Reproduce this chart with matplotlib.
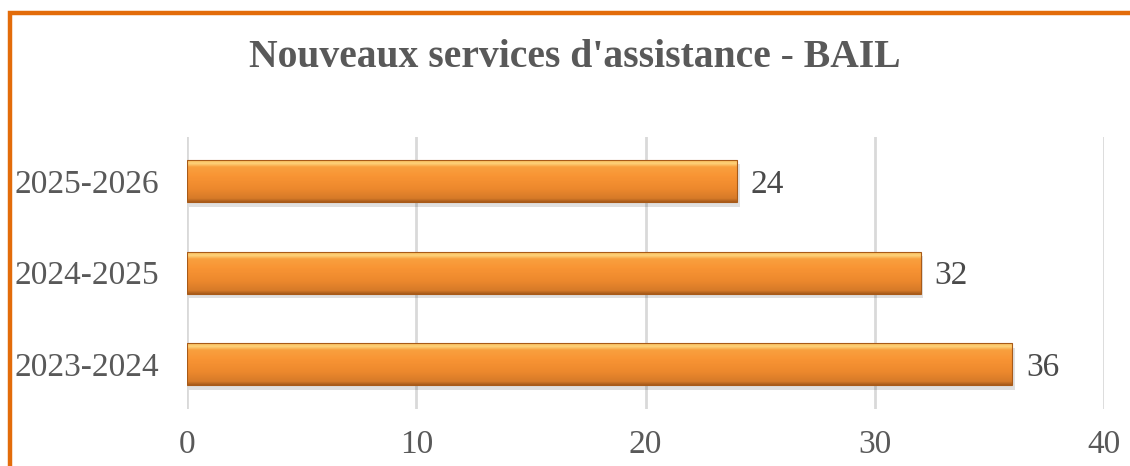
import matplotlib.pyplot as plt
import numpy as np
from matplotlib.colors import LinearSegmentedColormap
from matplotlib.patches import Rectangle

years = ["2023-2024", "2024-2025", "2025-2026"]
services = [36, 32, 24]
xticks = [0, 10, 20, 30, 40]

title = "Nouveaux services d'assistance - BAIL"

plt.rcParams["font.family"] = ["Liberation Serif", "DejaVu Serif"]

fig = plt.figure(figsize=(11.3, 4.66), dpi=100)
ax = fig.add_axes([0.1655, 0.122, 0.8115, 0.584])

# orange frame (only top and left visible in the crop)
fig.patches.append(Rectangle((9.5 / 1130, -0.2), 2.0, 1.2 - 12.5 / 466,
                             transform=fig.transFigure, fill=False,
                             edgecolor="#E36C0A", linewidth=3.2, zorder=0))

pos = np.arange(len(years))
bars = ax.barh(pos, services, height=0.46, color="#F79232", zorder=2)

# vertical gradient to imitate the bevel look
cmap = LinearSegmentedColormap.from_list(
    "bevel", [(0.0, "#A65A1A"), (0.08, "#D67A28"), (0.3, "#EC882D"),
              (0.6, "#F89434"), (0.82, "#F9A03E"), (0.9, "#FDD27A"),
              (0.96, "#FBC060"), (1.0, "#F0A050")])
grad = np.linspace(0, 1, 128).reshape(-1, 1)
for b in bars:
    x0, y0 = b.get_x(), b.get_y()
    w, h = b.get_width(), b.get_height()
    # soft shadow under the bar
    ax.add_patch(Rectangle((x0 + 0.1, y0 - 0.05), w, h, color="#000000",
                           alpha=0.12, linewidth=0, zorder=1.5))
    im = ax.imshow(grad, cmap=cmap, aspect="auto", origin="lower",
                   extent=[x0, x0 + w, y0, y0 + h], zorder=2.5)
    im.set_clip_path(b)
    ax.add_patch(Rectangle((x0, y0), w, h, fill=False, edgecolor="#A85A18",
                           linewidth=0.8, zorder=2.6))
    ax.text(x0 + w + 0.6, y0 + h / 2, str(int(w)), va="center_baseline",
            ha="left", fontsize=24, color="#4A4A4A")

ax.set_xlim(0, 40)
ax.set_ylim(-0.49, 2.48)
ax.set_xticks(xticks)
ax.set_yticks(pos)
ax.set_yticklabels(years)
ax.tick_params(length=0, labelsize=24, labelcolor="#595959")
ax.tick_params(axis="x", pad=15)
ax.tick_params(axis="y", pad=20)
for lbl in ax.get_yticklabels():
    lbl.set_va("center_baseline")
ax.grid(axis="x", color="#D9D9D9", linewidth=2, zorder=0)
ax.set_axisbelow(True)
for s in ax.spines.values():
    s.set_visible(False)

fig.text(0.509, 0.877, title, ha="center", va="center", fontsize=28.5,
         fontweight="bold", color="#595959")

fig.savefig("out.png", dpi=100)
